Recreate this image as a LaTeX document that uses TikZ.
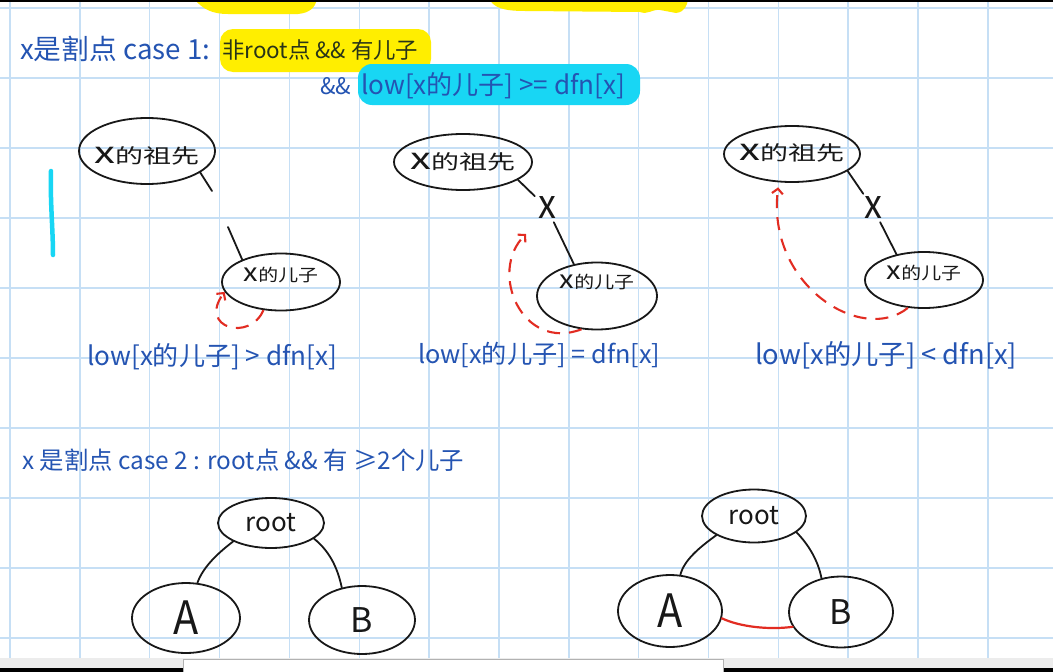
\documentclass[tikz,border=0pt]{standalone}
\usepackage{fontspec}
\setmainfont{Noto Sans CJK SC}
\usetikzlibrary{shapes.geometric,arrows.meta}
\definecolor{ink}{RGB}{36,84,178}
\definecolor{gridc}{RGB}{198,223,245}
\definecolor{redink}{RGB}{226,44,34}
\definecolor{hlyellow}{RGB}{255,238,0}
\definecolor{hlcyan}{RGB}{24,214,244}
\definecolor{darkink}{RGB}{24,24,24}
\definecolor{oliveink}{RGB}{40,52,24}
\definecolor{barbg}{RGB}{236,236,236}
\newcommand\fitw[2]{\resizebox{#1pt}{!}{#2}}
\newcommand\inl[2]{\makebox[0pt]{\raisebox{#1}[0pt][0pt]{#2}}}
\newcommand\ancl[1]{\inl{#1}{\fontsize{20}{20}\selectfont\scalebox{1.4}[1]{{\fontsize{30}{30}\selectfont x}的祖先}}}
\newcommand\chl[1]{\inl{#1}{\fontsize{17}{17}\selectfont\scalebox{1.17}[1]{{\fontsize{25}{25}\selectfont x}的儿子}}}
\newcommand\bigx{{\fontsize{30}{30}\selectfont\scalebox{1.2}[1.35]{x}}}
\begin{document}
\begin{tikzpicture}[x=1pt,y=-1pt,
  ell/.style={draw=darkink,line width=1.8pt,ellipse,inner sep=0pt,text=darkink},
  edge/.style={draw=darkink,line width=1.8pt,line cap=round},
  back/.style={draw=redink,line width=2.1pt,dash pattern=on 13pt off 9pt,-{Straight Barb[length=5pt,width=11pt]}},
  redline/.style={draw=redink,line width=2.2pt,line cap=round},
  bluetext/.style={text=ink,inner sep=0pt,anchor=west},
  xlab/.style={text=darkink,inner sep=3pt},
  ]
\useasboundingbox (0,0) rectangle (1053,672);
\fill[white] (0,0) rectangle (1053,672);
% grid
\foreach \k in {0,...,15} \draw[gridc,line width=1.5pt] ({10+69.85*\k},0) -- ({10+69.85*\k},658);
\foreach \k in {0,...,9} \draw[gridc,line width=1.5pt] (0,{8+70*\k}) -- (1053,{8+70*\k});
% top highlight remnants
\fill[hlyellow] (195,0) .. controls (203,9) and (212,14) .. (228,14) -- (298,14) .. controls (310,13) and (315,7) .. (317,0) -- cycle;
\fill[hlyellow] (490,0) .. controls (494,7) and (502,11) .. (525,11) -- (640,12) .. controls (648,15) and (652,9) .. (660,10) -- (676,13) .. controls (685,12) and (687,5) .. (688,0) -- cycle;
\fill[black] (0,0) rectangle (1053,1.5);
% highlights
\fill[hlyellow,rounded corners=13pt] (220,29) rectangle (431,72);
\fill[hlcyan,rounded corners=14pt] (358,64) rectangle (640,105);
\draw[hlcyan,line width=4.5pt,line cap=round] (51,171) .. controls (50,200) and (53,230) .. (53,255);
% header texts
\node[bluetext] (t1) at (20,49) {\fitw{190}{x是割点 case 1:}};
\node[bluetext,text=oliveink] (t2) at (222,50) {\fitw{196}{非root点 \&\& 有儿子}};
\node[bluetext] (t3) at (320,86) {\fitw{31}{\&\&}};
\node[bluetext] (t4) at (361,86) {\fitw{264}{low[x的儿子] >= dfn[x]}};
% panel 1
\node[ell,minimum width=136pt,minimum height=66pt] (anc1) at (147,151) {\ancl{-12pt}};
\node[ell,minimum width=118pt,minimum height=57pt] (ch1) at (281,282) {\chl{0.5pt}};
\coordinate (p1a) at (212,191);
\coordinate (p1b) at (228,227);
\draw[edge] (anc1.-22) -- (p1a);
\draw[edge] (p1b) -- (ch1.150);
\draw[back] (ch1.-122) .. controls (250,342) and (198,328) .. (ch1.-170);
\node[bluetext] (l1) at (87,357) {\fitw{250}{low[x的儿子] > dfn[x]}};
% panel 2
\node[ell,minimum width=138pt,minimum height=56pt] (anc2) at (463,162) {\ancl{-7pt}};
\node[xlab] (x2) at (547,208) {\bigx};
\node[ell,minimum width=120pt,minimum height=67pt] (ch2) at (597,296) {\chl{7.5pt}};
\coordinate (t2) at (526,234);
\draw[edge] (anc2.-18) -- (x2);
\draw[edge] (x2) -- (ch2.126);
\draw[back] (ch2.-115) .. controls (522,352) and (488,272) .. (t2);
\node[bluetext] (l2) at (418,355) {\fitw{242}{low[x的儿子] = dfn[x]}};
% panel 3
\node[ell,minimum width=136pt,minimum height=56pt] (anc3) at (792,154) {\ancl{-6.5pt}};
\node[xlab] (x3) at (873,208) {\bigx};
\node[ell,minimum width=118pt,minimum height=56pt] (ch3) at (924,280) {\chl{1pt}};
\draw[edge] (anc3.-17) -- (x3);
\draw[edge] (x3) -- (ch3.137);
\draw[back,shorten >=5pt] (ch3.-120) .. controls (862,345) and (766,285) .. (anc3.-115);
\node[bluetext] (l3) at (755,355) {\fitw{262}{low[x的儿子] < dfn[x]}};
% case 2
\node[bluetext] (c2) at (22,460) {\fitw{442}{x 是割点 case 2 : root点 \&\& 有 ≥2个儿子}};
\node[ell,minimum width=106pt,minimum height=50pt] (root1) at (271,523) {\fontsize{26}{26}\selectfont root};
\node[ell,minimum width=108pt,minimum height=70pt] (A1) at (186,618) {\fontsize{46}{46}\selectfont\scalebox{0.9}[1]{A}};
\node[ell,minimum width=106pt,minimum height=68pt] (B1) at (362,620) {\fontsize{34}{34}\selectfont B};
\draw[edge] (root1.-154) .. controls (218,553) and (203,567) .. (A1.72);
\draw[edge] (root1.-20) .. controls (328,550) and (337,565) .. (B1.122);
\node[ell,minimum width=104pt,minimum height=53pt] (root2) at (754,516) {\fontsize{26}{26}\selectfont root};
\node[ell,minimum width=104pt,minimum height=72pt] (A2) at (670,611) {\fontsize{46}{46}\selectfont\scalebox{0.9}[1]{A}};
\node[ell,minimum width=104pt,minimum height=71pt] (B2) at (841,612) {\fontsize{34}{34}\selectfont B};
\draw[edge] (root2.-153) .. controls (700,547) and (684,560) .. (A2.74);
\draw[edge] (root2.-21) .. controls (808,544) and (818,560) .. (B2.120);
\draw[redline] (A2.-8) .. controls (740,627) and (770,630) .. (B2.-163);
% bottom bar
\fill[barbg] (0,658) rectangle (1053,668);
\fill[black] (0,668) rectangle (1053,672);
\filldraw[fill=white,draw=black!30,line width=1pt] (183,672) -- (183,659) -- (723,659) -- (723,672);
\end{tikzpicture}
\end{document}
